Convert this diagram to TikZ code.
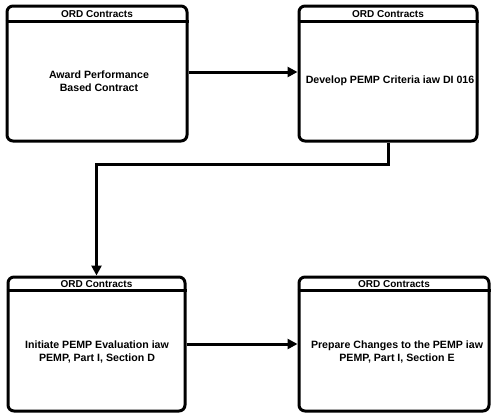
\documentclass[tikz,border=0pt]{standalone}
\usepackage{fontspec}
\setmainfont{Liberation Sans}
\usetikzlibrary{arrows.meta}
\begin{document}
\begin{tikzpicture}[x=1pt,y=-1pt,
  box/.style={draw,line width=3pt,rounded corners=6pt,inner sep=0pt,fill=white},
  hdr/.style={font=\bfseries\fontsize{10}{12}\selectfont,inner sep=0pt},
  body/.style={font=\bfseries\fontsize{10.6}{13.5}\selectfont,align=center,inner sep=0pt},
  conn/.style={line width=3pt,-{Triangle[length=10pt,width=10pt]}},
  plain/.style={line width=3pt}]
\useasboundingbox (0,0) rectangle (495,416);
% boxes
\node[box,minimum width=180pt,minimum height=135pt] (b1) at (97,73.5) {};
\node[box,minimum width=178pt,minimum height=135pt] (b2) at (388,73.5) {};
\node[box,minimum width=177pt,minimum height=134pt] (b3) at (96.5,344) {};
\node[box,minimum width=190pt,minimum height=134pt] (b4) at (394,344) {};
% header lines
\foreach \b/\d in {b1/17,b2/17,b3/15,b4/15}{
  \draw[plain] ([yshift=-\d pt]\b.north west) -- ([yshift=-\d pt]\b.north east);
}
% header texts
\node[hdr] (h1) at (97,14.5) {ORD Contracts};
\node[hdr] (h2) at (388,14.5) {ORD Contracts};
\node[hdr] (h3) at (96.5,284.5) {ORD Contracts};
\node[hdr] (h4) at (394,284.5) {ORD Contracts};
% body texts
\node[body] (t1) at (99,81) {Award Performance\\Based Contract};
\node[body] (t2) at (390,81) {Develop PEMP Criteria iaw DI 016};
\node[body] (t3) at (97,352) {Initiate PEMP Evaluation iaw\\PEMP, Part I, Section D};
\node[body] (t4) at (397,352) {Prepare Changes to the PEMP iaw\\PEMP, Part I, Section E};
% connectors
\draw[conn] ([yshift=1.5pt]b1.east) -- ([yshift=1.5pt]b2.west);
\draw[conn] (b2.south) -- ([yshift=-22pt]b2.south) -| (b3.north);
\draw[conn] (b3.east) -- (b4.west);
\end{tikzpicture}
\end{document}
